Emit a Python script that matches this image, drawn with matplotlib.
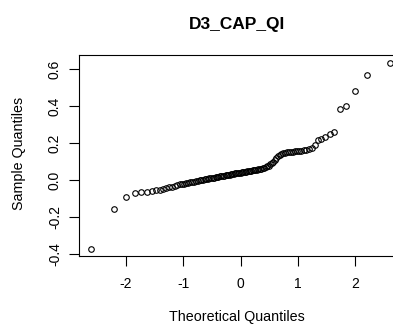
import statistics

import numpy as np
import matplotlib
matplotlib.use("Agg")
import matplotlib.pyplot as plt

plt.rcParams["font.family"] = ["Liberation Sans", "DejaVu Sans"]

title = "D3_CAP_QI"
x_label = "Theoretical Quantiles"
y_label = "Sample Quantiles"

# sorted sample values (107 points)
sample = [
    -0.372, -0.160, -0.092, -0.072, -0.068, -0.064, -0.060, -0.057, -0.052, -0.048,
    -0.044, -0.040, -0.036, -0.031, -0.027, -0.024, -0.022, -0.020, -0.018, -0.015,
    -0.013, -0.011, -0.009, -0.007, -0.005, -0.003, -0.001, 0.001, 0.003, 0.005,
    0.006, 0.008, 0.010, 0.011, 0.013, 0.014, 0.016, 0.017, 0.019, 0.020,
    0.022, 0.023, 0.025, 0.026, 0.028, 0.029, 0.031, 0.032, 0.034, 0.035,
    0.036, 0.038, 0.039, 0.040, 0.041, 0.042, 0.043, 0.045, 0.046, 0.047,
    0.048, 0.050, 0.051, 0.052, 0.054, 0.055, 0.057, 0.059, 0.061, 0.063,
    0.066, 0.069, 0.073, 0.078, 0.084, 0.091, 0.099, 0.108, 0.118, 0.128,
    0.136, 0.142, 0.146, 0.148, 0.150, 0.151, 0.152, 0.153, 0.154, 0.156,
    0.157, 0.159, 0.161, 0.164, 0.168, 0.174, 0.190, 0.215, 0.224, 0.234,
    0.246, 0.257, 0.383, 0.400, 0.481, 0.566, 0.635,
]

x_ticks = [-2, -1, 0, 1, 2]
y_ticks = [-0.4, -0.2, 0.0, 0.2, 0.4, 0.6]
y_ticklabels = ["-0.4", "-0.2", "0.0", "0.2", "0.4", "0.6"]

# theoretical normal quantiles, same as R's qqnorm (ppoints)
n = len(sample)
nd = statistics.NormalDist()
theo = [nd.inv_cdf((i - 0.5) / n) for i in range(1, n + 1)]

fig = plt.figure(figsize=(3.93, 3.32), dpi=100)
ax = fig.add_axes([0.201, 0.229, 0.822, 0.605])

ax.plot(theo, sample, linestyle="None", marker="o", markersize=4.0,
        markerfacecolor="none", markeredgecolor="black", markeredgewidth=0.8)

ax.set_xlim(-2.81, 2.81)
ax.set_ylim(-0.412, 0.676)

ax.set_xticks(x_ticks)
ax.set_xticklabels([str(t) for t in x_ticks])
ax.set_yticks(y_ticks)
ax.set_yticklabels(y_ticklabels, rotation=90, va="center")

ax.tick_params(direction="out", length=7.3, width=0.8, labelsize=10, color="black")
ax.tick_params(axis="x", pad=8)
ax.tick_params(axis="y", pad=5)

for s in ax.spines.values():
    s.set_linewidth(0.8)
    s.set_color("black")

ax.set_title(title, fontsize=12.5, fontweight="bold", pad=19, x=0.49)
ax.set_xlabel(x_label, fontsize=10.3)
ax.xaxis.set_label_coords(0.49, -0.27)
ax.set_ylabel(y_label, fontsize=10.3)
ax.yaxis.set_label_coords(-0.186, 0.51)
ax.yaxis.label.set_va("center")

fig.savefig("out.png", dpi=100)
